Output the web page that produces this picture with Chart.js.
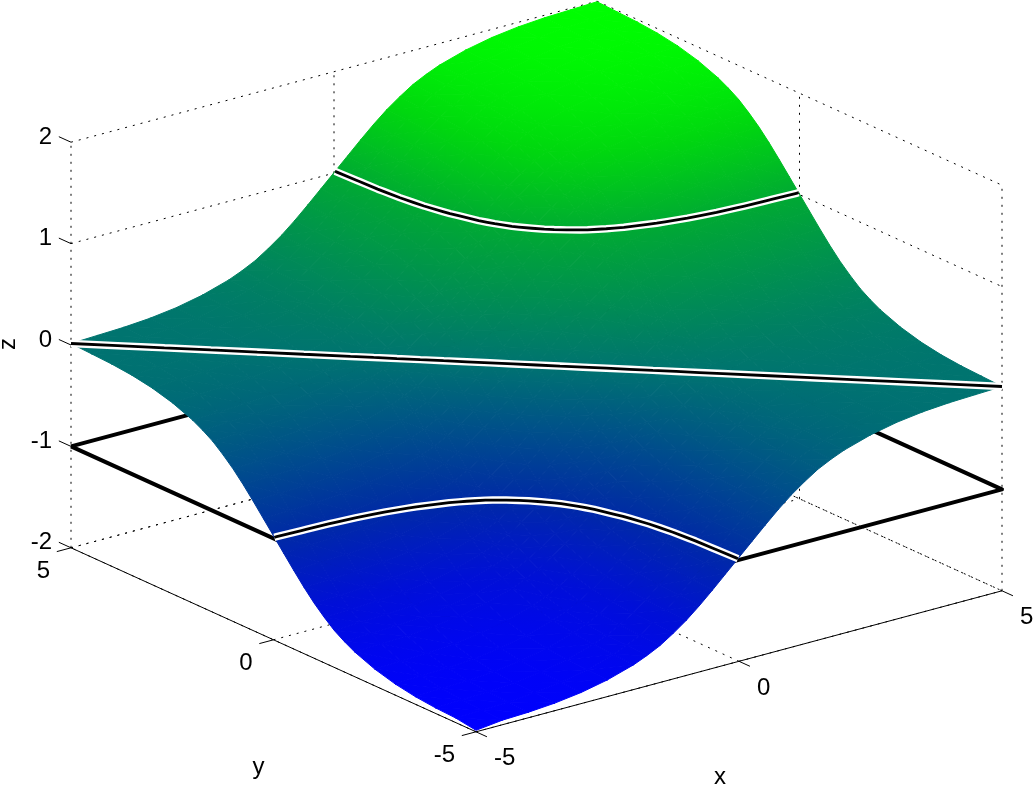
<!DOCTYPE html>
<html>
<head>
<meta charset="utf-8">
<title>Surface</title>
<script src="https://cdn.jsdelivr.net/npm/chart.js@4/dist/chart.umd.min.js"></script>
<style>
  html, body { margin: 0; padding: 0; background: #fff; }
  canvas { display: block; }
</style>
</head>
<body>
<canvas id="surfaceChart" width="1033" height="785"></canvas>
<script>
// Tick values on the three axes
const xTicks = [-5, 0, 5];
const yTicks = [-5, 0, 5];
const zTicks = [-2, -1, 0, 1, 2];

// Contour levels and the level of the black square
const contourLevels = [-1, 0, 1];
const squareLevel = -1;

// Colours read at a few heights: height, green, blue
const colorHeights = [-2, -1.5, -1, 0, 1, 1.5, 2];
const colorGreen = [0, 15, 42, 115, 170, 215, 255];
const colorBlue = [255, 215, 165, 112, 50, 15, 0];

// Sample positions, same for x and y
const gridSteps = [-5, -4.5, -4, -3.5, -3, -2.5, -2, -1.75, -1.5, -1.25, -1, -.75, -.5, -.25, 0, .25, .5, .75, 1, 1.25, 1.5, 1.75, 2, 2.5, 3, 3.5, 4, 4.5, 5];

// Surface heights, one row per x step, one column per y step
const zRows = [
  [-2,-1.97,-1.96,-1.94,-1.905,-1.85,-1.77,-1.715,-1.65,-1.565,-1.47,-1.36,-1.24,-1.115,-.99,-.865,-.74,-.62,-.51,-.415,-.33,-.265,-.21,-.13,-.075,-.04,-.02,-.01,0],
  [-1.97,-1.96,-1.95,-1.93,-1.895,-1.84,-1.76,-1.705,-1.64,-1.555,-1.46,-1.35,-1.23,-1.105,-.98,-.855,-.73,-.61,-.5,-.405,-.32,-.255,-.2,-.12,-.065,-.03,-.01,0,.01],
  [-1.96,-1.95,-1.94,-1.92,-1.885,-1.83,-1.75,-1.695,-1.63,-1.545,-1.45,-1.34,-1.22,-1.095,-.97,-.845,-.72,-.6,-.49,-.395,-.31,-.245,-.19,-.11,-.055,-.02,0,.01,.02],
  [-1.94,-1.93,-1.92,-1.9,-1.865,-1.81,-1.73,-1.675,-1.61,-1.525,-1.43,-1.32,-1.2,-1.075,-.95,-.825,-.7,-.58,-.47,-.375,-.29,-.225,-.17,-.09,-.035,0,.02,.03,.04],
  [-1.905,-1.895,-1.885,-1.865,-1.83,-1.775,-1.695,-1.64,-1.575,-1.49,-1.395,-1.285,-1.165,-1.04,-.915,-.79,-.665,-.545,-.435,-.34,-.255,-.19,-.135,-.055,0,.035,.055,.065,.075],
  [-1.85,-1.84,-1.83,-1.81,-1.775,-1.72,-1.64,-1.585,-1.52,-1.435,-1.34,-1.23,-1.11,-.985,-.86,-.735,-.61,-.49,-.38,-.285,-.2,-.135,-.08,0,.055,.09,.11,.12,.13],
  [-1.77,-1.76,-1.75,-1.73,-1.695,-1.64,-1.56,-1.505,-1.44,-1.355,-1.26,-1.15,-1.03,-.905,-.78,-.655,-.53,-.41,-.3,-.205,-.12,-.055,0,.08,.135,.17,.19,.2,.21],
  [-1.715,-1.705,-1.695,-1.675,-1.64,-1.585,-1.505,-1.45,-1.385,-1.3,-1.205,-1.095,-.975,-.85,-.725,-.6,-.475,-.355,-.245,-.15,-.065,0,.055,.135,.19,.225,.245,.255,.265],
  [-1.65,-1.64,-1.63,-1.61,-1.575,-1.52,-1.44,-1.385,-1.32,-1.235,-1.14,-1.03,-.91,-.785,-.66,-.535,-.41,-.29,-.18,-.085,0,.065,.12,.2,.255,.29,.31,.32,.33],
  [-1.565,-1.555,-1.545,-1.525,-1.49,-1.435,-1.355,-1.3,-1.235,-1.15,-1.055,-.945,-.825,-.7,-.575,-.45,-.325,-.205,-.095,0,.085,.15,.205,.285,.34,.375,.395,.405,.415],
  [-1.47,-1.46,-1.45,-1.43,-1.395,-1.34,-1.26,-1.205,-1.14,-1.055,-.96,-.85,-.73,-.605,-.48,-.355,-.23,-.11,0,.095,.18,.245,.3,.38,.435,.47,.49,.5,.51],
  [-1.36,-1.35,-1.34,-1.32,-1.285,-1.23,-1.15,-1.095,-1.03,-.945,-.85,-.74,-.62,-.495,-.37,-.245,-.12,0,.11,.205,.29,.355,.41,.49,.545,.58,.6,.61,.62],
  [-1.24,-1.23,-1.22,-1.2,-1.165,-1.11,-1.03,-.975,-.91,-.825,-.73,-.62,-.5,-.375,-.25,-.125,0,.12,.23,.325,.41,.475,.53,.61,.665,.7,.72,.73,.74],
  [-1.115,-1.105,-1.095,-1.075,-1.04,-.985,-.905,-.85,-.785,-.7,-.605,-.495,-.375,-.25,-.125,0,.125,.245,.355,.45,.535,.6,.655,.735,.79,.825,.845,.855,.865],
  [-.99,-.98,-.97,-.95,-.915,-.86,-.78,-.725,-.66,-.575,-.48,-.37,-.25,-.125,0,.125,.25,.37,.48,.575,.66,.725,.78,.86,.915,.95,.97,.98,.99],
  [-.865,-.855,-.845,-.825,-.79,-.735,-.655,-.6,-.535,-.45,-.355,-.245,-.125,0,.125,.25,.375,.495,.605,.7,.785,.85,.905,.985,1.04,1.075,1.095,1.105,1.115],
  [-.74,-.73,-.72,-.7,-.665,-.61,-.53,-.475,-.41,-.325,-.23,-.12,0,.125,.25,.375,.5,.62,.73,.825,.91,.975,1.03,1.11,1.165,1.2,1.22,1.23,1.24],
  [-.62,-.61,-.6,-.58,-.545,-.49,-.41,-.355,-.29,-.205,-.11,0,.12,.245,.37,.495,.62,.74,.85,.945,1.03,1.095,1.15,1.23,1.285,1.32,1.34,1.35,1.36],
  [-.51,-.5,-.49,-.47,-.435,-.38,-.3,-.245,-.18,-.095,0,.11,.23,.355,.48,.605,.73,.85,.96,1.055,1.14,1.205,1.26,1.34,1.395,1.43,1.45,1.46,1.47],
  [-.415,-.405,-.395,-.375,-.34,-.285,-.205,-.15,-.085,0,.095,.205,.325,.45,.575,.7,.825,.945,1.055,1.15,1.235,1.3,1.355,1.435,1.49,1.525,1.545,1.555,1.565],
  [-.33,-.32,-.31,-.29,-.255,-.2,-.12,-.065,0,.085,.18,.29,.41,.535,.66,.785,.91,1.03,1.14,1.235,1.32,1.385,1.44,1.52,1.575,1.61,1.63,1.64,1.65],
  [-.265,-.255,-.245,-.225,-.19,-.135,-.055,0,.065,.15,.245,.355,.475,.6,.725,.85,.975,1.095,1.205,1.3,1.385,1.45,1.505,1.585,1.64,1.675,1.695,1.705,1.715],
  [-.21,-.2,-.19,-.17,-.135,-.08,0,.055,.12,.205,.3,.41,.53,.655,.78,.905,1.03,1.15,1.26,1.355,1.44,1.505,1.56,1.64,1.695,1.73,1.75,1.76,1.77],
  [-.13,-.12,-.11,-.09,-.055,0,.08,.135,.2,.285,.38,.49,.61,.735,.86,.985,1.11,1.23,1.34,1.435,1.52,1.585,1.64,1.72,1.775,1.81,1.83,1.84,1.85],
  [-.075,-.065,-.055,-.035,0,.055,.135,.19,.255,.34,.435,.545,.665,.79,.915,1.04,1.165,1.285,1.395,1.49,1.575,1.64,1.695,1.775,1.83,1.865,1.885,1.895,1.905],
  [-.04,-.03,-.02,0,.035,.09,.17,.225,.29,.375,.47,.58,.7,.825,.95,1.075,1.2,1.32,1.43,1.525,1.61,1.675,1.73,1.81,1.865,1.9,1.92,1.93,1.94],
  [-.02,-.01,0,.02,.055,.11,.19,.245,.31,.395,.49,.6,.72,.845,.97,1.095,1.22,1.34,1.45,1.545,1.63,1.695,1.75,1.83,1.885,1.92,1.94,1.95,1.96],
  [-.01,0,.01,.03,.065,.12,.2,.255,.32,.405,.5,.61,.73,.855,.98,1.105,1.23,1.35,1.46,1.555,1.64,1.705,1.76,1.84,1.895,1.93,1.95,1.96,1.97],
  [0,.01,.02,.04,.075,.13,.21,.265,.33,.415,.51,.62,.74,.865,.99,1.115,1.24,1.36,1.47,1.565,1.65,1.715,1.77,1.85,1.905,1.94,1.96,1.97,1.98]
];

// View: how one unit of x, y, z lands on the flat chart axes
function project(x, y, z) {
  return { x: 52.6 * x - 40.5 * y, y: 14.1 * x + 18.4 * y + 101.4 * z };
}

// The drawn surface sits a touch above the box in the reference
const surfaceLift = 1.5;
function projectSurface(x, y, z) {
  const q = project(x, y, z);
  return { x: q.x, y: q.y + surfaceLift };
}

// Blue to green
function surfaceColor(z) {
  let k = 0;
  while (k < colorHeights.length - 2 && z > colorHeights[k + 1]) k++;
  const t = Math.min(1, Math.max(0, (z - colorHeights[k]) / (colorHeights[k + 1] - colorHeights[k])));
  const g = colorGreen[k] + t * (colorGreen[k + 1] - colorGreen[k]);
  const b = colorBlue[k] + t * (colorBlue[k + 1] - colorBlue[k]);
  return 'rgb(0,' + Math.round(g) + ',' + Math.round(b) + ')';
}

// Gouraud look: height is linear over a triangle, so one canvas gradient does it
function triangleFill(ctx) {
  const chart = ctx.chart;
  const tri = ctx.dataset.tri;
  if (!tri || !chart.scales.x) return '#000';
  const p = tri.map(v => {
    const q = projectSurface(v[0], v[1], v[2]);
    return [chart.scales.x.getPixelForValue(q.x), chart.scales.y.getPixelForValue(q.y), v[2]];
  });
  const e1 = [p[1][0] - p[0][0], p[1][1] - p[0][1], p[1][2] - p[0][2]];
  const e2 = [p[2][0] - p[0][0], p[2][1] - p[0][1], p[2][2] - p[0][2]];
  const det = e1[0] * e2[1] - e1[1] * e2[0];
  const a = (e1[2] * e2[1] - e1[1] * e2[2]) / det;
  const b = (e1[0] * e2[2] - e1[2] * e2[0]) / det;
  const norm = a * a + b * b;
  if (!det || !norm) return surfaceColor(p[0][2]);
  const zs = p.map(v => v[2]);
  const zMin = Math.min(...zs), zMax = Math.max(...zs);
  const low = p[zs.indexOf(zMin)];
  const d = (zMax - zMin) / norm;
  const g = chart.ctx.createLinearGradient(low[0], low[1], low[0] + a * d, low[1] + b * d);
  g.addColorStop(0, surfaceColor(zMin));
  colorHeights.forEach(h => {
    if (h > zMin && h < zMax) g.addColorStop((h - zMin) / (zMax - zMin), surfaceColor(h));
  });
  g.addColorStop(1, surfaceColor(zMax));
  return g;
}

const datasets = [];

function addLine(pts, color, width, dash, view) {
  const toChart = view || project;
  datasets.push({
    data: pts.map(v => toChart(v[0], v[1], v[2])),
    showLine: true,
    fill: false,
    borderColor: color,
    borderWidth: width,
    borderDash: dash || [],
    borderJoinStyle: 'round',
    pointRadius: 0
  });
}

// Dotted box walls and floor
const dotted = [2, 6];
zTicks.forEach(z => {
  addLine([[-5, 5, z], [5, 5, z]], '#000', 1, dotted);
  addLine([[5, 5, z], [5, -5, z]], '#000', 1, dotted);
});
xTicks.forEach(x => {
  addLine([[x, 5, -2], [x, 5, 2]], '#000', 1, dotted);
  addLine([[x, -5, -2], [x, 5, -2]], '#000', 1, dotted);
});
yTicks.forEach(y => {
  addLine([[5, y, -2], [5, y, 2]], '#000', 1, dotted);
  addLine([[-5, y, -2], [5, y, -2]], '#000', 1, dotted);
});

// Solid axes and tick marks
addLine([[-5, 5, -2], [-5, -5, -2], [5, -5, -2]], '#000', 1);
xTicks.forEach(x => addLine([[x, -5, -2], [x, -5.27, -2]], '#000', 1));
yTicks.forEach(y => addLine([[-5, y, -2], [-5.27, y, -2]], '#000', 1));
zTicks.forEach(z => addLine([[-5, 5, z], [-5, 5.3, z]], '#000', 1));

// Black square, behind the surface
addLine([[-5, 5, squareLevel], [5, 5, squareLevel], [5, -5, squareLevel], [-5, -5, squareLevel], [-5, 5, squareLevel]], '#000', 4);

// Surface triangles, far corner first
const triangles = [];
for (let i = gridSteps.length - 2; i >= 0; i--) {
  for (let j = gridSteps.length - 2; j >= 0; j--) {
    const v = (a, b) => [gridSteps[a], gridSteps[b], zRows[a][b]];
    triangles.push([v(i + 1, j + 1), v(i + 1, j), v(i, j + 1)]);
    triangles.push([v(i, j), v(i + 1, j), v(i, j + 1)]);
  }
}
triangles.forEach(tri => {
  datasets.push({
    tri: tri,
    data: tri.concat([tri[0]]).map(v => projectSurface(v[0], v[1], v[2])),
    showLine: true,
    fill: 'shape',
    backgroundColor: triangleFill,
    borderColor: triangleFill,
    borderWidth: 1,
    pointRadius: 0
  });
});

// Contours on the surface: walk the grid edges and cut them at the level
function contourPoints(level) {
  const cut = level + 1e-6;
  const pts = [];
  const check = (a, b, c, d) => {
    const z0 = zRows[a][b], z1 = zRows[c][d];
    if ((z0 < cut) !== (z1 < cut)) {
      const t = (cut - z0) / (z1 - z0);
      pts.push([gridSteps[a] + t * (gridSteps[c] - gridSteps[a]), gridSteps[b] + t * (gridSteps[d] - gridSteps[b]), level]);
    }
  };
  for (let i = 0; i < gridSteps.length; i++) {
    for (let j = 0; j < gridSteps.length; j++) {
      if (i + 1 < gridSteps.length) check(i, j, i + 1, j);
      if (j + 1 < gridSteps.length) check(i, j, i, j + 1);
      if (i + 1 < gridSteps.length && j + 1 < gridSteps.length) check(i + 1, j, i, j + 1);
    }
  }
  return pts.sort((p, q) => project(p[0], p[1], 0).x - project(q[0], q[1], 0).x);
}
contourLevels.forEach(level => {
  const pts = contourPoints(level);
  addLine(pts, '#fff', 7.5, null, projectSurface);
  addLine(pts, '#000', 2.8, null, projectSurface);
});

// Tick labels and axis names, placed from the same scales
const axisText = {
  id: 'axisText',
  afterDatasetsDraw(chart) {
    const c = chart.ctx;
    const at = (x, y, z) => {
      const q = project(x, y, z);
      return [chart.scales.x.getPixelForValue(q.x), chart.scales.y.getPixelForValue(q.y)];
    };
    c.save();
    c.fillStyle = '#000';
    c.font = '24px "Liberation Sans"';
    c.textBaseline = 'middle';
    c.textAlign = 'right';
    zTicks.forEach(z => {
      const p = at(-5, 5, z);
      c.fillText(String(z), p[0] - 19, p[1] - 5);
    });
    yTicks.forEach(y => {
      const p = at(-5, y, -2);
      c.fillText(String(y), p[0] - 21, p[1] + 24);
    });
    c.textAlign = 'left';
    xTicks.forEach(x => {
      const p = at(x, -5, -2);
      c.fillText(String(x), p[0] + 18, p[1] + 27);
    });
    c.textAlign = 'center';
    let p = at(0, -5, -2);
    c.fillText('x', p[0] - 19, p[1] + 116);
    p = at(-5, 0, -2);
    c.fillText('y', p[0] - 15, p[1] + 128);
    p = at(-5, 5, 0);
    c.translate(p[0] - 63, p[1] - 1);
    c.rotate(-Math.PI / 2);
    c.fillText('z', 0, 0);
    c.restore();
  }
};

// Dataset 0 is painted last in Chart.js, so flip the list
datasets.reverse();

new Chart(document.getElementById('surfaceChart'), {
  type: 'scatter',
  data: { datasets: datasets },
  plugins: [axisText],
  options: {
    responsive: false,
    animation: false,
    events: [],
    layout: { padding: 0 },
    plugins: { legend: { display: false }, tooltip: { enabled: false } },
    scales: {
      x: { type: 'linear', display: false, min: -536.5, max: 496.5 },
      y: { type: 'linear', display: false, min: -418.5, max: 366.5 }
    }
  }
});
</script>
</body>
</html>
